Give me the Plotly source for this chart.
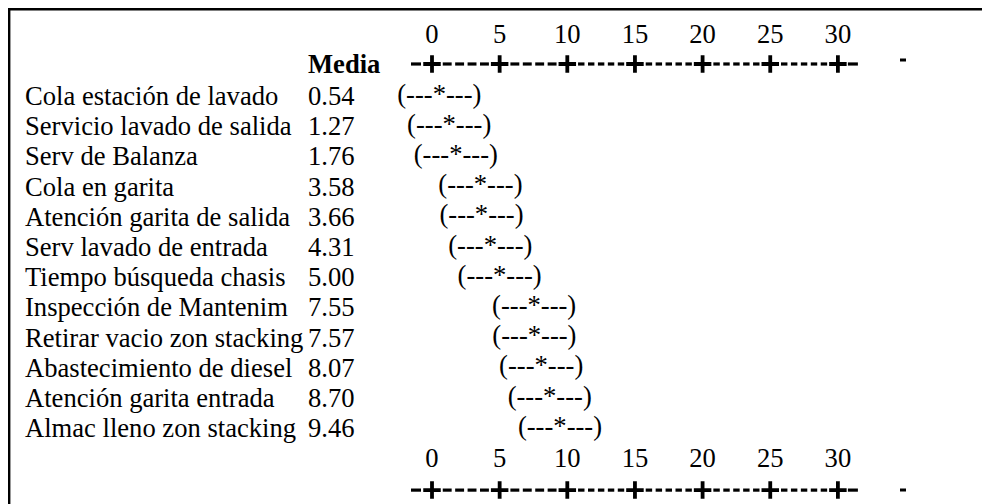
import plotly.graph_objects as go

# ---- data ----
categories = [
    "Cola estación de lavado",
    "Servicio lavado de salida",
    "Serv de Balanza",
    "Cola en garita",
    "Atención garita de salida",
    "Serv lavado de entrada",
    "Tiempo búsqueda chasis",
    "Inspección de Mantenim",
    "Retirar vacio zon stacking",
    "Abastecimiento de diesel",
    "Atención garita entrada",
    "Almac lleno zon stacking",
]
means = [0.54, 1.27, 1.76, 3.58, 3.66, 4.31, 5.00, 7.55, 7.57, 8.07, 8.70, 9.46]
tick_values = [0, 5, 10, 15, 20, 25, 30]
tick_labels = ["0", "5", "10", "15", "20", "25", "30"]
dash_counts = [4, 4, 5, 5, 5, 5]      # hyphens between "+" marks in "-+----+----+-----+..."
header = "Media"
interval_glyph = "(---*---)"

# ---- layout constants (figure pixels; page adds an 8px body margin) ----
W, H = 990, 504
PX_PER_UNIT = 13.53
X0_PX = 424.0           # figure pixel of value 0
ROW_PX = 30.2
ROW0_PX = 88.0          # figure pixel of first category row
FONT = "Liberation Serif, Times New Roman, serif"
FS = 26.6

x_range = [-X0_PX / PX_PER_UNIT, (W - X0_PX) / PX_PER_UNIT]
r_min = -ROW0_PX / ROW_PX
r_max = r_min + H / ROW_PX

n = len(categories)
rows = list(range(n))
top_label_row, top_axis_row = -1.98, -1.06
bot_label_row, bot_axis_row = n + 0.06, n + 1.05

fig = go.Figure()

# intervals centred on the mean
fig.add_trace(go.Scatter(
    x=means, y=rows, mode="text", text=[interval_glyph] * n,
    textposition="middle center",
    textfont=dict(family=FONT, size=FS, color="black"),
    hoverinfo="skip", showlegend=False))

# axis tick labels (top & bottom)
for r in (top_label_row, bot_label_row):
    fig.add_trace(go.Scatter(
        x=tick_values, y=[r] * len(tick_values), mode="text", text=tick_labels,
        textposition="middle center",
        textfont=dict(family=FONT, size=FS, color="black"),
        hoverinfo="skip", showlegend=False))

shapes = []
u = 1.0 / PX_PER_UNIT   # one pixel in data units
dash_line = dict(color="black", width=3.2)
for r in (top_axis_row, bot_axis_row):
    # leading and trailing hyphen
    for c in (tick_values[0] - 16 * u, tick_values[-1] + 15 * u):
        shapes.append(dict(type="line", xref="x", yref="y",
                           x0=c - 5 * u, x1=c + 5 * u, y0=r, y1=r, line=dash_line))
    # hyphens between the "+" marks
    for a, b, k in zip(tick_values[:-1], tick_values[1:], dash_counts):
        g = 9 * u
        period = (b - a - 2 * g) / k
        L = min(9.5 * u, period - 3.5 * u)
        for j in range(k):
            c = a + g + (j + 0.5) * period
            shapes.append(dict(type="line", xref="x", yref="y",
                               x0=c - L / 2, x1=c + L / 2, y0=r, y1=r,
                               line=dash_line))
    fig.add_trace(go.Scatter(
        x=tick_values, y=[r] * len(tick_values), mode="markers",
        marker=dict(symbol="cross-thin", size=12.5,
                    line=dict(width=3.8, color="black"), color="black"),
        hoverinfo="skip", showlegend=False))

annotations = []
for i, (c, m) in enumerate(zip(categories, means)):
    annotations.append(dict(x=15 / W, xref="paper", y=i, yref="y", text=c,
                            xanchor="left", yanchor="middle", showarrow=False,
                            font=dict(family=FONT, size=FS, color="black")))
    annotations.append(dict(x=298 / W, xref="paper", y=i, yref="y",
                            text=f"{m:.2f}", xanchor="left", yanchor="middle",
                            showarrow=False,
                            font=dict(family=FONT, size=FS, color="black")))
annotations.append(dict(x=298 / W, xref="paper", y=top_axis_row, yref="y",
                        text=f"<b>{header}</b>", xanchor="left", yanchor="middle",
                        showarrow=False,
                        font=dict(family=FONT, size=FS, color="black")))

# frame (left and top border) and right-side stubs
shapes.append(dict(type="line", xref="paper", yref="paper",
                   x0=1.2 / W, x1=1.2 / W, y0=0, y1=1,
                   line=dict(color="black", width=2.4)))
shapes.append(dict(type="line", xref="paper", yref="paper",
                   x0=0, x1=1, y0=(H - 1.3) / H, y1=(H - 1.3) / H,
                   line=dict(color="black", width=2.6)))
for ypx in (52, 482):
    shapes.append(dict(type="line", xref="paper", yref="paper",
                       x0=892 / W, x1=898 / W, y0=(H - ypx) / H, y1=(H - ypx) / H,
                       line=dict(color="black", width=3)))

fig.update_layout(
    width=W, height=H,
    margin=dict(l=0, r=0, t=0, b=0),
    paper_bgcolor="white", plot_bgcolor="white",
    xaxis=dict(range=x_range, visible=False, fixedrange=True),
    yaxis=dict(range=[r_max, r_min], visible=False, fixedrange=True),
    shapes=shapes, annotations=annotations,
    showlegend=False,
)

fig.write_html("out.html")
